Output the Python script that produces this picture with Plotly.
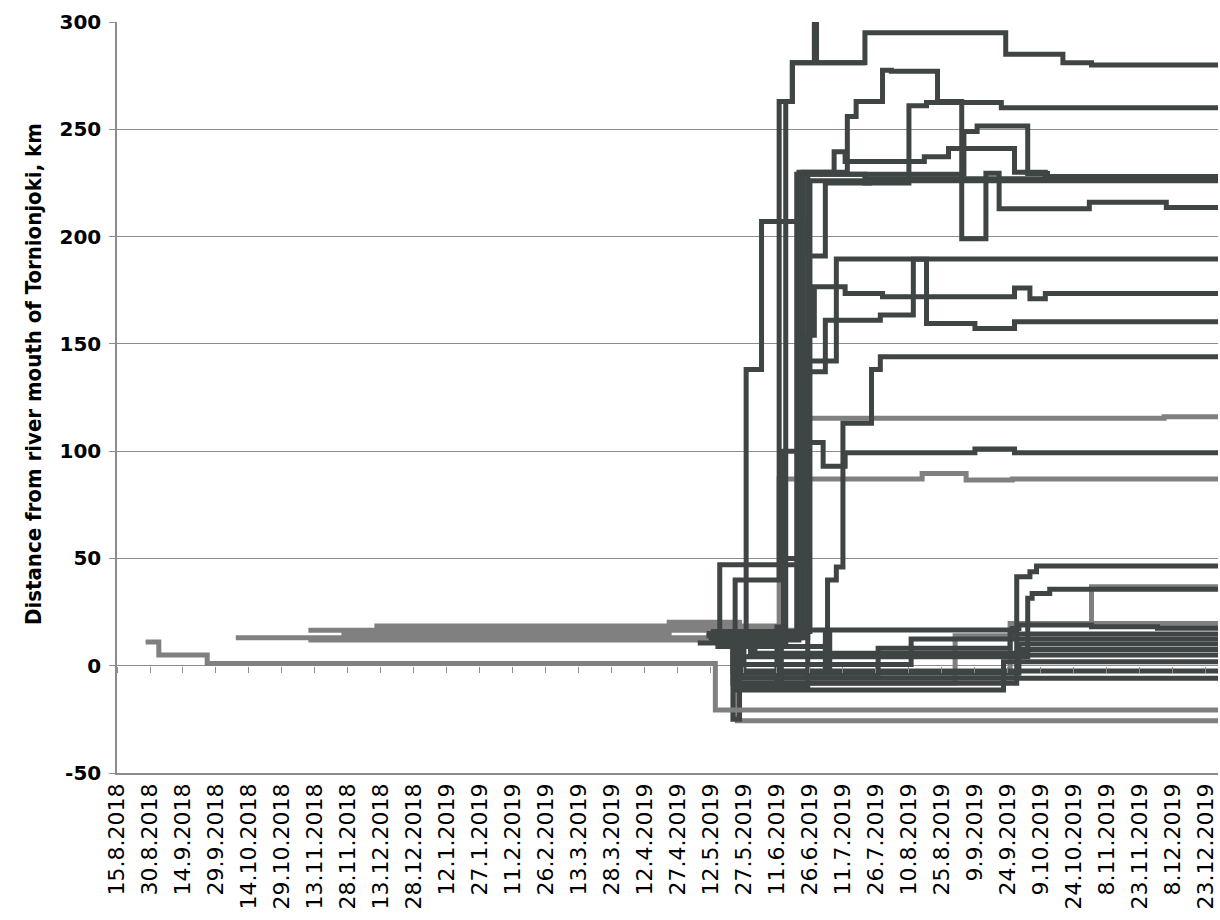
import plotly.graph_objects as go
from datetime import datetime

# ---------------- tick labels ----------------
tick_labels = ["15.8.2018", "30.8.2018", "14.9.2018", "29.9.2018", "14.10.2018", "29.10.2018",
               "13.11.2018", "28.11.2018", "13.12.2018", "28.12.2018", "12.1.2019", "27.1.2019",
               "11.2.2019", "26.2.2019", "13.3.2019", "28.3.2019", "12.4.2019", "27.4.2019",
               "12.5.2019", "27.5.2019", "11.6.2019", "26.6.2019", "11.7.2019", "26.7.2019",
               "10.8.2019", "25.8.2019", "9.9.2019", "24.9.2019", "9.10.2019", "24.10.2019",
               "8.11.2019", "23.11.2019", "8.12.2019", "23.12.2019"]
y_ticks = [-50, 0, 50, 100, 150, 200, 250, 300]
y_tick_text = ["-50", "0", "50", "100", "150", "200", "250", "300"]

# ---------------- grey series (date, km) ----------------
g_aug = [("2018-08-28", 11), ("2018-09-03", 5), ("2018-09-25", 1), ("2019-05-14", -20.6), ("2019-12-31", -20.6)]
g_oct = [("2018-10-08", 13), ("2019-05-24", -25.6), ("2019-12-31", -25.6)]
g_nov_a = [("2018-11-10", 12), ("2019-05-14", 17), ("2019-05-24", -8), ("2019-08-31", 14),
           ("2019-09-26", 19.7), ("2019-12-31", 19.7)]
g_nov_b = [("2018-11-10", 16.5), ("2019-06-24", 115.3), ("2019-12-04", 116), ("2019-12-31", 116)]
g_nov_c = [("2018-11-25", 14.5), ("2019-04-23", 20.3), ("2019-05-25", -3), ("2019-09-25", 19.7),
           ("2019-11-01", 36.8), ("2019-12-31", 36.8)]
g_dec = [("2018-12-10", 18.5), ("2019-06-12", 87), ("2019-08-16", 89.6), ("2019-09-05", 86.5),
         ("2019-09-26", 87), ("2019-12-31", 87)]

# ---------------- dark series (date, km) ----------------
d_280 = [("2019-05-06", 10.6), ("2019-06-15", 263), ("2019-06-18", 281), ("2019-06-28", 330),
         ("2019-06-29", 281), ("2019-07-21", 295), ("2019-09-23", 285), ("2019-10-19", 281),
         ("2019-11-01", 280), ("2019-12-31", 280)]
d_260 = [("2019-05-10", 14), ("2019-06-20", 229), ("2019-07-21", 225), ("2019-08-10", 261),
         ("2019-08-18", 262.5), ("2019-09-21", 260), ("2019-12-31", 260)]
d_214 = [("2019-05-14", 12), ("2019-06-21", 230), ("2019-07-13", 256), ("2019-07-17", 263),
         ("2019-07-29", 277.5), ("2019-08-02", 277), ("2019-08-23", 263), ("2019-09-03", 199),
         ("2019-09-14", 229.5), ("2019-09-20", 213), ("2019-10-31", 216), ("2019-12-05", 213.5),
         ("2019-12-31", 213.5)]
d_227a = [("2019-05-10", 15), ("2019-06-23", 230), ("2019-07-07", 239.5), ("2019-07-12", 235),
          ("2019-08-17", 237.2), ("2019-08-28", 241), ("2019-09-27", 230), ("2019-10-11", 226.5),
          ("2019-12-31", 226.5)]
d_227b = [("2019-05-11", 13), ("2019-06-25", 229), ("2019-09-04", 249), ("2019-09-10", 251.5),
          ("2019-10-03", 229.4), ("2019-10-12", 228), ("2019-12-31", 228)]
d_226a = [("2019-05-12", 12), ("2019-05-28", 138), ("2019-06-04", 207), ("2019-06-25", 191),
          ("2019-07-03", 225), ("2019-07-23", 227), ("2019-12-31", 227)]
d_226b = [("2019-05-12", 16), ("2019-06-26", 226), ("2019-12-31", 226)]
d_281 = [("2019-05-12", 14), ("2019-05-23", 40), ("2019-06-12", 263), ("2019-06-18", 281),
         ("2019-07-21", 281)]
d_190 = [("2019-05-13", 13), ("2019-06-22", 142), ("2019-07-08", 189.5), ("2019-12-31", 189.5)]
d_174 = [("2019-05-13", 15), ("2019-06-14", 100), ("2019-06-24", 154), ("2019-06-28", 176.6),
         ("2019-07-12", 173.5), ("2019-07-29", 172), ("2019-09-27", 176), ("2019-10-04", 171),
         ("2019-10-11", 173.5), ("2019-12-31", 173.5)]
d_161 = [("2019-05-14", 12), ("2019-06-14", 50), ("2019-06-22", 137), ("2019-07-03", 161),
         ("2019-07-28", 163.4), ("2019-08-12", 189.4), ("2019-08-18", 159.5), ("2019-09-09", 157.2),
         ("2019-09-27", 160.3), ("2019-12-31", 160.3)]
d_144 = [("2019-05-14", 9), ("2019-07-04", 40), ("2019-07-08", 46), ("2019-07-11", 113),
         ("2019-07-24", 138), ("2019-07-28", 144), ("2019-12-31", 144)]
d_100 = [("2019-05-13", 12), ("2019-05-16", 47), ("2019-06-24", 104), ("2019-07-02", 93),
         ("2019-07-12", 99.3), ("2019-09-09", 101), ("2019-09-27", 99.3), ("2019-12-31", 99.3)]
l_46 = [("2019-05-13", 14), ("2019-05-22", -8.2), ("2019-09-28", 41.5), ("2019-10-04", 43.8),
        ("2019-10-07", 46.5), ("2019-12-31", 46.5)]
l_36 = [("2019-05-14", 13), ("2019-05-26", 4.2), ("2019-10-03", 31.4), ("2019-10-05", 33.7),
        ("2019-10-13", 35.6), ("2019-12-31", 35.6)]
l_17 = [("2019-05-13", 15), ("2019-05-24", -10), ("2019-06-25", 16.6), ("2019-09-26", 17.4),
        ("2019-09-29", 19), ("2019-11-01", 18.2), ("2019-12-01", 17.5), ("2019-12-31", 17.5)]
l_15 = [("2019-05-14", 12), ("2019-05-25", -3.5), ("2019-07-27", 8.1), ("2019-09-25", 14.8),
        ("2019-12-31", 14.8)]
l_12 = [("2019-05-14", 13), ("2019-05-26", 0.6), ("2019-08-11", 12.4), ("2019-12-31", 12.4)]
l_10 = [("2019-05-14", 11), ("2019-05-27", -3.5), ("2019-07-03", 15), ("2019-07-05", -3.5),
        ("2019-09-29", 10.1), ("2019-12-31", 10.1)]
l_7 = [("2019-05-14", 16), ("2019-06-01", 5.8), ("2019-10-01", 7.6), ("2019-12-31", 7.6)]
l_5 = [("2019-05-15", 12), ("2019-05-30", 5), ("2019-12-31", 5)]
l_2 = [("2019-05-15", 10), ("2019-05-24", -11.3), ("2019-06-11", 18), ("2019-06-13", -11.3),
       ("2019-09-22", 1.9), ("2019-12-31", 1.9)]
l_m2 = [("2019-05-16", 12), ("2019-05-22", -2.5), ("2019-12-31", -2.5)]
l_m6 = [("2019-05-17", 14), ("2019-05-23", -5.9), ("2019-12-31", -5.9)]
l_m25 = [("2019-05-13", 15), ("2019-05-22", -25), ("2019-05-25", 10), ("2019-06-06", 10)]

grey_series = [g_aug, g_oct, g_nov_a, g_nov_b, g_nov_c, g_dec]
dark_series = [d_280, d_260, d_214, d_227a, d_227b, d_226a, d_226b, d_281, d_190, d_174,
               d_161, d_144, d_100, l_46, l_36, l_17, l_15, l_12, l_10, l_7, l_5, l_2,
               l_m2, l_m6, l_m25]

GREY = "#808080"
DARK = "#3f4444"
AXIS = "#8c8c8c"

fig = go.Figure()


def add_series(series, color, xaxis="x"):
    fig.add_trace(go.Scatter(
        x=[p[0] for p in series], y=[p[1] for p in series], mode="lines",
        line=dict(color=color, width=5, shape="hv"),
        xaxis=xaxis, hoverinfo="skip", showlegend=False))


for i, s in enumerate(grey_series):
    add_series(s, GREY, "x2" if i == 0 else "x")
for s in dark_series:
    add_series(s, DARK)

tick_vals = [datetime.strptime(t, "%d.%m.%Y") for t in tick_labels]

W, H = 1220, 920
L, R, T, B = 117, 2, 22, 147
plot_w, plot_h = W - L - R, H - T - B

fig.update_layout(
    width=W, height=H,
    margin=dict(l=L, r=R, t=T, b=B, autoexpand=False),
    paper_bgcolor="white", plot_bgcolor="white",
    showlegend=False,
    xaxis=dict(
        type="date", range=["2018-08-15", "2019-12-28 12:00"],
        tickvals=tick_vals, ticktext=tick_labels, tickangle=-90,
        tickfont=dict(family="DejaVu Sans", size=22, color="black"),
        showgrid=False, zeroline=False, showline=True, linecolor=AXIS, linewidth=1.5,
        ticks="", automargin=False,
    ),
    xaxis2=dict(
        type="date", overlaying="x", matches="x", anchor="free", position=50 / 350,
        tickvals=tick_vals, ticks="outside", ticklen=6, tickcolor=AXIS, tickwidth=1,
        showticklabels=False, showgrid=False, zeroline=False, showline=False,
    ),
    yaxis=dict(
        range=[-50, 300], tickvals=y_ticks, ticktext=y_tick_text,
        tickfont=dict(family="DejaVu Sans", size=20, color="black", weight="bold"),
        showgrid=True, gridcolor=AXIS, gridwidth=1,
        zeroline=False, showline=True, linecolor=AXIS, linewidth=1.5,
        ticks="outside", ticklen=6, tickcolor=AXIS, automargin=False,
        ticklabelstandoff=4,
    ),
    annotations=[dict(
        text="Distance from river mouth of Tornionjoki, km",
        xref="paper", yref="paper",
        x=(33 - L) / plot_w, y=(H - B - 374) / plot_h,
        xanchor="center", yanchor="middle", textangle=-90, showarrow=False,
        font=dict(family="Liberation Sans Narrow, DejaVu Sans Condensed, Lato",
                  size=22, color="black", weight="bold"),
    )],
)

fig.write_html("out.html", config={"displayModeBar": False},
               post_script="document.body.style.margin='0px';document.body.style.overflow='hidden';")
